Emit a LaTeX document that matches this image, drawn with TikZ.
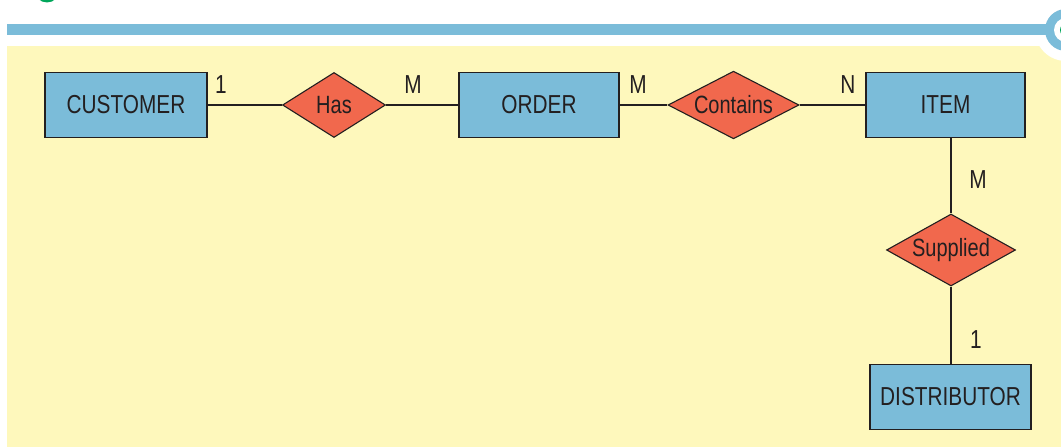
\documentclass[tikz,border=0pt]{standalone}
\usepackage{fontspec}
\setmainfont{Liberation Sans}[FakeStretch=0.8]
\usetikzlibrary{shapes.geometric}
\definecolor{erblue}{HTML}{7BBCD9}
\definecolor{erred}{HTML}{F1684D}
\definecolor{eryellow}{HTML}{FEF8BC}
\definecolor{ergreen}{HTML}{00A65A}
\definecolor{ertext}{HTML}{231F20}
\tikzset{
  entity/.style={draw=ertext, line width=1.3pt, fill=erblue, minimum height=65pt, text=ertext, font=\fontsize{26}{28}\selectfont, inner sep=0pt},
  relation/.style={draw=ertext, line width=1.1pt, fill=erred, diamond, aspect=1.6, inner sep=0pt, text=ertext, font=\fontsize{25}{28}\selectfont},
  conn/.style={draw=ertext, line width=1.1pt},
  card/.style={text=ertext, font=\fontsize{26}{28}\selectfont, inner sep=0pt}
}
\begin{document}
\begin{tikzpicture}[x=1pt,y=1pt]
\useasboundingbox (0,0) rectangle (1061,447);
\fill[white] (0,0) rectangle (1061,447);
% panel
\fill[eryellow] (7,0) rectangle (1061,401);
\fill[white] (1066,417) circle (31);
% top bar
\fill[erblue] (7,412) rectangle (1050,423);
\begin{scope}
\clip (0,0) rectangle (1061,447);
\fill[erblue] (1066,417) circle (21);
\fill[white] (1066,417) circle (12);
\fill[ergreen] (1067,417) circle (7);
\fill[ergreen] (47,457) circle (12.5);
\end{scope}
% entities
\node[entity, minimum width=162pt] (customer) at (126,342) {CUSTOMER};
\node[entity, minimum width=160pt] (order) at (539,342) {ORDER};
\node[entity, minimum width=159pt] (item) at (945.5,342) {ITEM};
\node[entity, minimum width=161pt] (distributor) at (950.5,50) {DISTRIBUTOR};
% relations
\node[relation, minimum width=103pt, minimum height=65pt] (has) at (334,342) {Has};
\node[relation, minimum width=131pt, minimum height=67pt] (contains) at (733.5,342) {Contains};
\node[relation, minimum width=129pt, minimum height=72pt] (supplied) at (951,197) {Supplied};
% connectors
\draw[conn] (customer.east) -- (has.west);
\draw[conn] (has.east) -- (order.west);
\draw[conn] (order.east) -- (contains.west);
\draw[conn] (contains.east) -- (item.east -| item.west);
\draw[conn] (item.south -| supplied.north) -- (supplied.north);
\draw[conn] (supplied.south) -- (supplied.south |- distributor.north);
% cardinalities
\node[card] (c1) at (221,362) {1};
\node[card] (c2) at (413,362) {M};
\node[card] (c3) at (638,362) {M};
\node[card] (c4) at (848,362) {N};
\node[card] (c5) at (978,267) {M};
\node[card] (c6) at (976,107) {1};
\end{tikzpicture}
\end{document}
